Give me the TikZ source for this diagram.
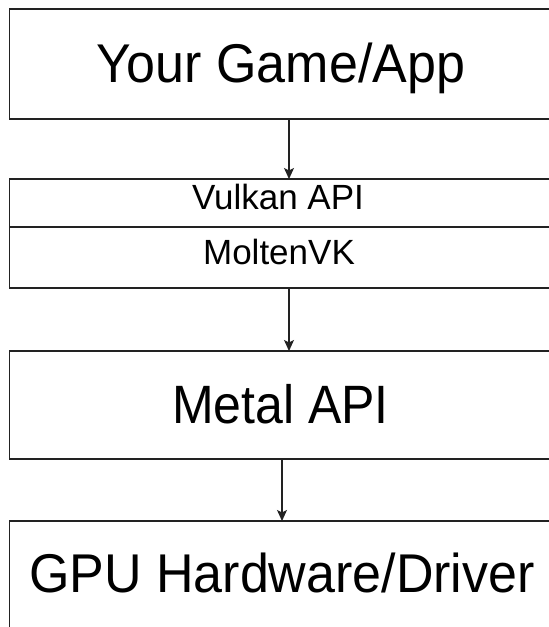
\documentclass[tikz,border=0pt]{standalone}
\usepackage{fontspec}
\setmainfont{Liberation Sans}
\usepackage{graphicx}
\usetikzlibrary{arrows.meta}
\definecolor{edge}{HTML}{222222}
\begin{document}
\begin{tikzpicture}[x=1pt,y=-1pt,
  box/.style={draw=edge, line width=1.7pt, fill=white, inner sep=0pt, outer sep=0pt, anchor=north west, minimum width=548pt},
  big/.style={font=\fontsize{52}{52}\selectfont, anchor=base, inner sep=0pt, text=black},
  mid/.style={font=\fontsize{50}{50}\selectfont, anchor=base, inner sep=0pt, text=black},
  small/.style={font=\fontsize{35}{35}\selectfont, anchor=base, inner sep=0pt, text=black},
  link/.style={draw=edge, line width=1.2pt, -{Stealth[length=11pt,width=10pt,inset=2.5pt]}}]
\useasboundingbox (0,0) rectangle (549,627);
\fill[white] (0,0) rectangle (549,627);
\clip (0,0) rectangle (549,627);
% boxes
\node[box, minimum height=110pt] (app) at (9.5,9) {};
\node[box, minimum height=48pt] (vulkan) at (9.5,179) {};
\node[box, minimum height=61pt] (molten) at (9.5,227) {};
\node[box, minimum height=108pt] (metal) at (9.5,351) {};
\node[box, minimum height=110pt] (gpu) at (9.5,521) {};
% texts
\node[big] (tapp) at (281,82) {\scalebox{1}[1.05]{Your Game/App}};
\node[small] (tvulkan) at (278,209) {Vulkan API};
\node[small] (tmolten) at (279,264) {MoltenVK};
\node[mid] (tmetal) at (280.5,423) {\scalebox{1}[1.08]{Metal API}};
\node[big] (tgpu) at (282,592) {\scalebox{1}[1.05]{GPU Hardware/Driver}};
% connectors
\draw[link] ([xshift=5.5pt]app.south) -- ([xshift=5.5pt]app.south |- vulkan.north);
\draw[link] ([xshift=5.5pt]molten.south) -- ([xshift=5.5pt]molten.south |- metal.north);
\draw[link] ([xshift=-1.5pt]metal.south) -- ([xshift=-1.5pt]metal.south |- gpu.north);
\end{tikzpicture}
\end{document}
